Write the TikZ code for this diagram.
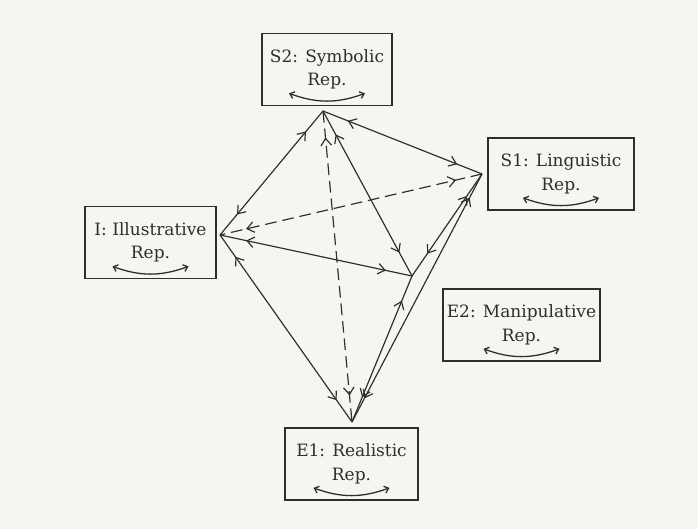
\documentclass[tikz,border=0pt]{standalone}
\usepackage{fontspec}
\setmainfont{DejaVu Serif}
\usetikzlibrary{arrows.meta,decorations.markings}
\definecolor{ink}{HTML}{2E2E2E}
\definecolor{paper}{HTML}{F5F5F2}
\tikzset{
  repbox/.style={draw=ink, line width=1.5pt, fill=paper, align=center, inner sep=0pt, minimum height=2.16cm},
  swing/.style={draw=ink, line width=1.1pt, {Straight Barb[length=3.5pt,width=6pt]}-{Straight Barb[length=3.5pt,width=6pt]}},
  link/.style={draw=ink, line width=1pt, postaction={decorate}, decoration={markings,
    mark=at position .8cm with {\arrowreversed{Straight Barb[length=6pt,width=9pt]}},
    mark=at position -.8cm with {\arrow{Straight Barb[length=6pt,width=9pt]}}}},
}
\begin{document}
\begin{tikzpicture}[x=.03cm, y=.03cm, font=\fontsize{14.5}{20}\selectfont, text=ink]
  \fill[paper] (0,0) rectangle (698,529);
  % representation boxes
  \node[repbox, minimum width=3.9cm] (S2) at (327,459.5) {S2: Symbolic\\Rep.};
  \node[repbox, minimum width=4.38cm] (S1) at (561,355) {S1: Linguistic\\Rep.};
  \node[repbox, minimum width=3.93cm] (I) at (150.5,286.5) {I: Illustrative\\Rep.};
  \node[repbox, minimum width=4.71cm] (E2) at (521.5,204) {E2: Manipulative\\Rep.};
  \node[repbox, minimum width=3.99cm] (E1) at (351.5,65) {E1: Realistic\\Rep.};
  \foreach \b in {S2,S1,I,E2,E1} {
    \draw[swing] ([shift={(-1.14cm,.39cm)}]\b.south) to[bend right=20] ([shift={(1.14cm,.39cm)}]\b.south);
  }
  % corners of the network
  \coordinate (vS2) at (323,418);
  \coordinate (vS1) at (482,355);
  \coordinate (vI) at (220,294);
  \coordinate (vE2) at (412,253);
  \coordinate (vE1) at (352,107);
  % translations
  \draw[link] (vI) -- (vS2);
  \draw[link] (vS2) -- (vS1);
  \draw[link] (vS2) -- (vE2);
  \draw[link] (vI) -- (vE2);
  \draw[link] (vI) -- (vE1);
  \draw[link] (vS1) -- (vE2);
  \draw[link] (vS1) -- (vE1);
  \draw[link] (vE2) -- (vE1);
  \draw[link, dash pattern=on 10pt off 5pt] (vS2) -- (vE1);
  \draw[link, dash pattern=on 10pt off 5pt] (vS1) -- (vI);
\end{tikzpicture}
\end{document}
